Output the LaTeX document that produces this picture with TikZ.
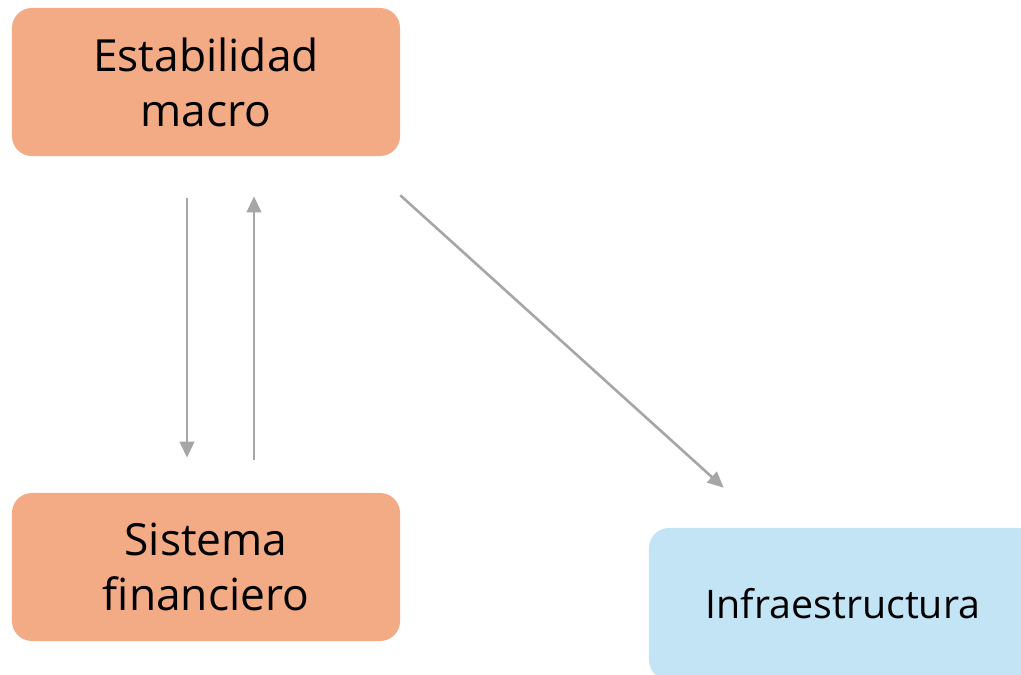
\documentclass[tikz,border=0pt]{standalone}
\usepackage{fontspec}
\setmainfont{Open Sans}
\usetikzlibrary{arrows.meta}
\definecolor{boxorange}{HTML}{F2AB84}
\definecolor{boxblue}{HTML}{C2E4F4}
\definecolor{linkgray}{HTML}{A6A6A6}
\tikzset{
    blockbox/.style={rounded corners=0.5cm, minimum width=9.7cm, align=center, inner sep=0pt},
    link/.style={draw=linkgray, line width=0.065cm, -{Triangle[length=0.4cm, width=0.36cm]}}
}
\begin{document}
\begin{tikzpicture}[x=0.025cm, y=-0.025cm]
        % Canvas:
        \useasboundingbox (0, 0) rectangle (1021, 675);
        \clip (0, 0) rectangle (1021, 675);
        % Boxes:
        \node[blockbox, fill=boxorange, minimum height=3.7cm, font=\fontsize{31.5}{39}\selectfont](N1) at (206, 82){Estabilidad\\macro};
        \node[blockbox, fill=boxorange, minimum height=3.7cm, font=\fontsize{31.5}{39}\selectfont](N2) at (206, 567){Sistema\\financiero};
        \node[blockbox, fill=boxblue, minimum height=3.8cm, font=\fontsize{28}{36}\selectfont](N3) at (843, 604){Infraestructura};
        % Arrows:
        \draw[link] ([shift={(-19, 42)}]N1.south) -- ([shift={(-19, -35)}]N2.north);
        \draw[link] ([shift={(48, -33)}]N2.north) -- ([shift={(48, 40)}]N1.south);
        \draw[link] ([shift={(0, 39)}]N1.south east) -- ([shift={(75, -40)}]N3.north west);
    \end{tikzpicture}
\end{document}
